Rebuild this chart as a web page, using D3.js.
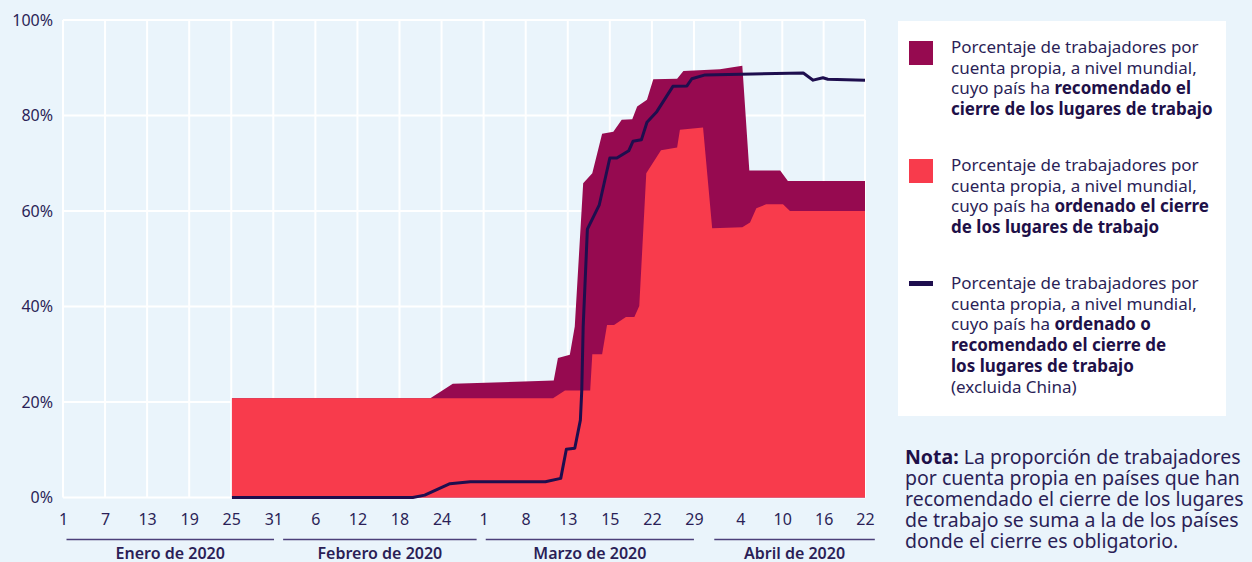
<!DOCTYPE html>
<html>
<head>
<meta charset="utf-8">
<script src="https://cdn.jsdelivr.net/npm/d3@7"></script>
<style>
  body { margin: 0; background: #eaf4fb; }
  svg { display: block; font-family: "Noto Sans", sans-serif; }
</style>
</head>
<body>
<div id="chart"></div>
<script>
// x is in "days" counted from 1 Jan 2020 on the chart's own axis
var xTicks = [0, 6, 12, 18, 24, 30, 36, 42, 48, 54, 60, 66, 72, 78, 84, 90, 96.6, 102.6, 108.5, 114.4];
var xTickLabels = ["1", "7", "13", "19", "25", "31", "6", "12", "18", "24", "1", "8", "13", "15", "22", "29", "4", "10", "16", "22"];
var months = ["Enero de 2020", "Febrero de 2020", "Marzo de 2020", "Abril de 2020"];
var monthStart = [0.5, 31.4, 60.3, 92.9];
var monthEnd = [30.1, 59.0, 90.0, 115.8];
var yTicks = [0, 20, 40, 60, 80, 100];

// ordered closures (red)
var ordenado = [
  [24.1, 20.8], [69.9, 20.8], [71.6, 22.4], [75.2, 22.4], [75.5, 30.0], [76.9, 30.0],
  [77.6, 36.1], [78.6, 36.1], [80.3, 37.8], [81.5, 37.8], [82.2, 40.1], [83.2, 67.9],
  [85.3, 72.7], [87.6, 73.3], [88.0, 77.0], [91.3, 77.5], [92.6, 56.4], [96.9, 56.6],
  [98.0, 57.6], [98.9, 60.6], [100.3, 61.4], [102.7, 61.4], [103.7, 60.0], [114.4, 60.0]
];
// ordered + recommended (purple)
var recomendado = [
  [24.1, 20.8], [52.4, 20.8], [55.6, 23.8], [70.0, 24.5], [70.6, 29.2], [72.3, 29.9],
  [73.0, 35.8], [74.2, 65.8], [75.5, 67.9], [76.9, 76.2], [78.5, 76.6], [79.7, 79.1],
  [81.2, 79.2], [81.9, 81.9], [83.3, 83.3], [84.2, 87.6], [87.6, 87.7], [88.5, 89.3],
  [93.7, 89.7], [96.9, 90.4], [97.9, 68.5], [102.3, 68.5], [103.4, 66.3], [114.4, 66.3]
];
// ordered or recommended, excluding China (line)
var sinChina = [
  [24.1, 0], [49.9, 0], [51.6, 0.5], [55.2, 2.9], [58.1, 3.3], [68.8, 3.3], [71.0, 4.0],
  [71.8, 10.1], [73.0, 10.3], [73.8, 16.2], [74.0, 22.5], [74.2, 35.8], [74.8, 56.2],
  [76.5, 61.3], [78.0, 71.1], [79.0, 71.1], [80.7, 72.6], [81.3, 74.6], [82.5, 74.9],
  [83.3, 78.6], [84.7, 80.8], [87.0, 86.1], [89.0, 86.2], [89.7, 87.7], [91.6, 88.5],
  [105.6, 88.9], [107.0, 87.4], [108.4, 87.9], [109.1, 87.6], [114.4, 87.4]
];

var legendItems = [
  {color: "#960a50", type: "rect", lines: [
    [["Porcentaje de trabajadores por", false]],
    [["cuenta propia, a nivel mundial,", false]],
    [["cuyo país ha ", false], ["recomendado el", true]],
    [["cierre de los lugares de trabajo", true]]
  ]},
  {color: "#f83b4c", type: "rect", lines: [
    [["Porcentaje de trabajadores por", false]],
    [["cuenta propia, a nivel mundial,", false]],
    [["cuyo país ha ", false], ["ordenado el cierre", true]],
    [["de los lugares de trabajo", true]]
  ]},
  {color: "#1e0e4e", type: "line", lines: [
    [["Porcentaje de trabajadores por", false]],
    [["cuenta propia, a nivel mundial,", false]],
    [["cuyo país ha ", false], ["ordenado o", true]],
    [["recomendado el cierre de", true]],
    [["los lugares de trabajo", true]],
    [["(excluida China)", false]]
  ]}
];
var noteLines = [
  [["Nota:", true], [" La proporción de trabajadores", false]],
  [["por cuenta propia en países que han", false]],
  [["recomendado el cierre de los lugares", false]],
  [["de trabajo se suma a la de los países", false]],
  [["donde el cierre es obligatorio.", false]]
];

var W = 1252, H = 562;
var textColor = "#2b1f57";

var svg = d3.select("#chart")
  .append("svg")
    .attr("width", W)
    .attr("height", H);

svg.append("rect").attr("width", W).attr("height", H).attr("fill", "#eaf4fb");

var x = d3.scaleLinear()
  .domain([0, 114.4])
  .range([63, 865]);
var y = d3.scaleLinear()
  .domain([0, 100])
  .range([497.5, 20]);

// grid
svg.append("g")
  .selectAll("line.h")
  .data(yTicks)
  .enter().append("line")
    .attr("x1", x(0)).attr("x2", x(114.4))
    .attr("y1", d => y(d)).attr("y2", d => y(d))
    .attr("stroke", "#fff").attr("stroke-width", 2);
svg.append("g")
  .selectAll("line.v")
  .data(xTicks)
  .enter().append("line")
    .attr("x1", d => x(d)).attr("x2", d => x(d))
    .attr("y1", y(0)).attr("y2", y(100))
    .attr("stroke", "#fff").attr("stroke-width", 2);

// y axis
var yAxis = svg.append("g")
  .attr("transform", "translate(" + (x(0) - 10) + ",0)")
  .call(d3.axisLeft(y).tickValues(yTicks).tickFormat(d => d + "%").tickSize(0).tickPadding(0));
yAxis.select(".domain").remove();
yAxis.selectAll("text")
  .attr("font-size", 16).attr("fill", textColor).attr("font-family", "Noto Sans");

// x axis
var xAxis = svg.append("g")
  .attr("transform", "translate(0," + (y(0) + 16) + ")")
  .call(d3.axisBottom(x).tickValues(xTicks).tickFormat((d, i) => xTickLabels[i]).tickSize(0).tickPadding(0));
xAxis.select(".domain").remove();
xAxis.selectAll("text")
  .attr("font-size", 16).attr("fill", textColor).attr("font-family", "Noto Sans");

// areas
var area = d3.area()
  .x(d => x(d[0]))
  .y0(y(0))
  .y1(d => y(d[1]));

svg.append("path")
  .datum(recomendado)
  .attr("fill", "#960a50")
  .attr("d", area);
svg.append("path")
  .datum(ordenado)
  .attr("fill", "#f83b4c")
  .attr("d", area);

svg.append("path")
  .datum(sinChina)
  .attr("fill", "none")
  .attr("stroke", "#1e0e4e")
  .attr("stroke-width", 3)
  .attr("stroke-linejoin", "round")
  .attr("d", d3.line()
    .x(d => x(d[0]))
    .y(d => y(d[1]))
  );

// month groups
var mg = svg.append("g");
months.forEach(function(m, i) {
  mg.append("line")
    .attr("x1", x(monthStart[i])).attr("x2", x(monthEnd[i]))
    .attr("y1", 539.5).attr("y2", 539.5)
    .attr("stroke", "#4b3f7a").attr("stroke-width", 1.5);
  mg.append("text")
    .attr("x", x((monthStart[i] + monthEnd[i]) / 2))
    .attr("y", 558.5)
    .attr("text-anchor", "middle")
    .attr("font-size", 16).attr("font-weight", 600)
    .attr("fill", textColor)
    .text(m);
});

// legend
var lg = svg.append("g");
lg.append("rect")
  .attr("x", 898).attr("y", 21).attr("width", 328).attr("height", 395)
  .attr("fill", "#fff");

var entryTop = [53, 171, 289];
legendItems.forEach(function(item, i) {
  if (item.type == "rect") {
    lg.append("rect")
      .attr("x", 909).attr("y", entryTop[i] - 12).attr("width", 24).attr("height", 24)
      .attr("fill", item.color);
  } else {
    lg.append("rect")
      .attr("x", 909).attr("y", entryTop[i] - 8).attr("width", 24).attr("height", 5)
      .attr("fill", item.color);
  }
  item.lines.forEach(function(line, j) {
    var t = lg.append("text")
      .attr("x", 951).attr("y", entryTop[i] + j * 20.7)
      .attr("font-size", 17).attr("fill", textColor);
    line.forEach(function(seg) {
      t.append("tspan")
        .attr("font-weight", seg[1] ? 700 : 400)
        .attr("fill", seg[1] ? "#1e1048" : textColor)
        .text(seg[0]);
    });
  });
});

// note
noteLines.forEach(function(line, j) {
  var t = svg.append("text")
    .attr("x", 905).attr("y", 464 + j * 21)
    .attr("font-size", 19.5).attr("fill", textColor);
  line.forEach(function(seg) {
    t.append("tspan")
      .attr("font-weight", seg[1] ? 700 : 400)
      .attr("fill", seg[1] ? "#1e1048" : textColor)
      .text(seg[0]);
  });
});
</script>
</body>
</html>
